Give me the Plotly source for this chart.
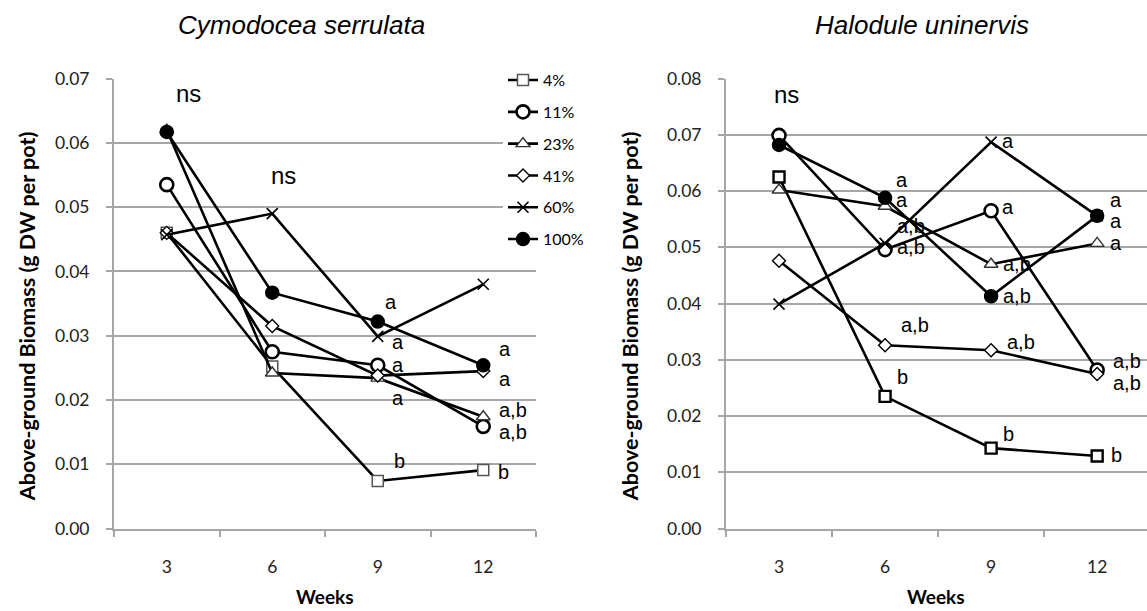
import plotly.graph_objects as go

# Sampling weeks (category axis)
weeks = ["3", "6", "9", "12"]

# Light treatments (% of surface irradiance)
treatments = ["4%", "11%", "23%", "41%", "60%", "100%"]

# Above-ground biomass (g DW per pot) - Cymodocea serrulata
cs_4 = [0.0460, 0.0252, 0.0074, 0.0091]
cs_11 = [0.0535, 0.0275, 0.0254, 0.0159]
cs_23 = [0.0620, 0.0242, 0.0234, 0.0174]
cs_41 = [0.0460, 0.0315, 0.0238, 0.0245]
cs_60 = [0.0457, 0.0490, 0.0299, 0.0380]
cs_100 = [0.0617, 0.0367, 0.0322, 0.0254]

# Above-ground biomass (g DW per pot) - Halodule uninervis
hu_4 = [0.0625, 0.0235, 0.0143, 0.0129]
hu_11 = [0.0699, 0.0496, 0.0565, 0.0282]
hu_23 = [0.0602, 0.0573, 0.0470, 0.0507]
hu_41 = [0.0476, 0.0326, 0.0317, 0.0275]
hu_60 = [0.0399, 0.0507, 0.0687, 0.0556]
hu_100 = [0.0682, 0.0588, 0.0413, 0.0556]

cs_series = [cs_4, cs_11, cs_23, cs_41, cs_60, cs_100]
hu_series = [hu_4, hu_11, hu_23, hu_41, hu_60, hu_100]

# Significance letters: (series index, week index, text)
cs_letters = [
    (5, 2, "a"), (4, 2, "a"), (1, 2, "a"), (3, 2, "a"), (0, 2, "b"),
    (5, 3, "a"), (3, 3, "a"), (2, 3, "a,b"), (1, 3, "a,b"), (0, 3, "b"),
]
hu_letters = [
    (5, 1, "a"), (2, 1, "a"), (4, 1, "a,b"), (1, 1, "a,b"), (3, 1, "a,b"), (0, 1, "b"),
    (4, 2, "a"), (1, 2, "a"), (2, 2, "a,b"), (5, 2, "a,b"), (3, 2, "a,b"), (0, 2, "b"),
    (5, 3, "a"), (4, 3, "a"), (2, 3, "a"), (1, 3, "a,b"), (3, 3, "a,b"), (0, 3, "b"),
]
# "ns" markers: (series index, week index)
cs_ns = [(5, 0), (4, 1)]
hu_ns = [(1, 0)]

# label pixel offsets (dx, dy) in the same order as the letter lists
cs_offsets = [
    (13, 20), (20, -6), (20, 0), (20, -22), (22, 20),
    (22, 16), (22, -8), (30, 7), (30, -6), (20, -2),
]
hu_offsets = [
    (17, 18), (17, 6), (26, 17), (26, 3), (30, 20), (17, 19),
    (17, 1), (17, 4), (26, 0), (26, 0), (30, 8), (17, 14),
    (19, 16), (19, -5), (19, 0), (30, 9), (30, -9), (19, 1),
]
ns_offsets_cs = [(22, 38), (11, 38)]
ns_offsets_hu = [(7, 41)]

BLACK = "#000000"
GRID = "#a6a6a6"


def marker_styles(square_line, square_width):
    return [
        dict(symbol="square", size=11, color="white", line=dict(color=square_line, width=square_width)),
        dict(symbol="circle", size=13, color="white", line=dict(color=BLACK, width=2.6)),
        dict(symbol="triangle-up", size=12, color="white", line=dict(color="#333333", width=1.4)),
        dict(symbol="diamond", size=10, color="white", line=dict(color=BLACK, width=1.4)),
        dict(symbol="x-thin", size=11, color=BLACK, line=dict(color=BLACK, width=1.6)),
        dict(symbol="circle", size=13, color=BLACK, line=dict(color=BLACK, width=1.5)),
    ]


cs_markers = marker_styles("#555555", 1.5)
hu_markers = marker_styles(BLACK, 2.4)

fig = go.Figure()

for i, (name, vals) in enumerate(zip(treatments, cs_series)):
    fig.add_trace(go.Scatter(
        x=weeks, y=vals, name=name, mode="lines+markers",
        line=dict(color=BLACK, width=2.6), marker=cs_markers[i],
        xaxis="x", yaxis="y", legendgroup=name, showlegend=True,
        cliponaxis=False,
    ))

for i, (name, vals) in enumerate(zip(treatments, hu_series)):
    fig.add_trace(go.Scatter(
        x=weeks, y=vals, name=name, mode="lines+markers",
        line=dict(color=BLACK, width=2.6), marker=hu_markers[i],
        xaxis="x2", yaxis="y2", legendgroup=name, showlegend=False,
        cliponaxis=False,
    ))

LABEL_FONT = dict(family="Liberation Sans, Arial, sans-serif", size=20, color=BLACK)
NS_FONT = dict(family="Liberation Sans, Arial, sans-serif", size=24, color=BLACK)

annotations = []


def add_letters(letters, offsets, series, xref, yref, font):
    for (si, wi, txt), (dx, dy) in zip(letters, offsets):
        annotations.append(dict(
            x=wi, y=series[si][wi], xref=xref, yref=yref, text=txt,
            showarrow=False, xanchor="center", yanchor="middle",
            xshift=dx, yshift=dy, font=font,
        ))


add_letters(cs_letters, cs_offsets, cs_series, "x", "y", LABEL_FONT)
add_letters(hu_letters, hu_offsets, hu_series, "x2", "y2", LABEL_FONT)
add_letters([(s, w, "ns") for s, w in cs_ns], ns_offsets_cs, cs_series, "x", "y", NS_FONT)
add_letters([(s, w, "ns") for s, w in hu_ns], ns_offsets_hu, hu_series, "x2", "y2", NS_FONT)

W, H = 1147, 611
TITLE_FONT = dict(family="Liberation Sans, Arial, sans-serif", size=26, color=BLACK)
AXIS_TITLE_FONT = dict(family="Lato, sans-serif", size=21.5, color=BLACK, weight="bold")


def paper_text(px, py, text, font, angle=0):
    annotations.append(dict(
        x=px / W, y=1 - py / H, xref="paper", yref="paper", text=text,
        showarrow=False, xanchor="center", yanchor="middle", textangle=angle, font=font,
    ))


# panel titles
paper_text(301, 14, "<i>Cymodocea serrulata</i>", TITLE_FONT)
paper_text(922, 14, "<i>Halodule uninervis</i>", TITLE_FONT)
# axis titles
paper_text(325, 606, "<b>Weeks</b>", dict(AXIS_TITLE_FONT, size=19))
paper_text(936, 606, "<b>Weeks</b>", dict(AXIS_TITLE_FONT, size=19))
paper_text(27, 316, "<b>Above-ground Biomass (g DW per pot)</b>", AXIS_TITLE_FONT, -90)
paper_text(630, 316, "<b>Above-ground Biomass (g DW per pot)</b>", AXIS_TITLE_FONT, -90)

TICK_FONT = dict(family="Lato, sans-serif", size=17.5, color="#222222")

xaxis_common = dict(
    type="category", categoryorder="array", categoryarray=weeks,
    tickson="boundaries", ticks="outside", ticklen=6, tickcolor=GRID, tickwidth=1.5,
    showline=True, linecolor=GRID, linewidth=2, showgrid=False, zeroline=False,
    tickfont=TICK_FONT, ticklabelstandoff=21,
)
yaxis_common = dict(
    tickformat=".2f", ticks="outside", ticklen=6, tickcolor=GRID, tickwidth=1.5,
    showline=True, linecolor=GRID, linewidth=2, showgrid=True, gridcolor=GRID,
    gridwidth=1.6, zeroline=False, tickfont=TICK_FONT, dtick=0.01, ticklabelstandoff=13,
)

y_dom = [1 - 536 / H, 1 - 70 / H]

fig.update_layout(
    width=W, height=H,
    margin=dict(l=0, r=0, t=0, b=0),
    paper_bgcolor="white", plot_bgcolor="white",
    xaxis=dict(xaxis_common, domain=[114 / W, 536 / W], range=[-0.5, 3.5], anchor="y"),
    yaxis=dict(yaxis_common, domain=y_dom, range=[0, 0.07], anchor="x"),
    xaxis2=dict(xaxis_common, domain=[726 / W, 1.0], range=[-0.5, 3.47], anchor="y2"),
    yaxis2=dict(yaxis_common, domain=y_dom, range=[0, 0.08], anchor="x2"),
    annotations=annotations,
    showlegend=True,
    legend=dict(
        x=503 / W, y=1 - 54 / H, xanchor="left", yanchor="top",
        bgcolor="white", borderwidth=0, tracegroupgap=8,
        font=dict(family="Lato, sans-serif", size=16, color=BLACK),
        itemwidth=30,
    ),
)

fig.write_html("out.html")
